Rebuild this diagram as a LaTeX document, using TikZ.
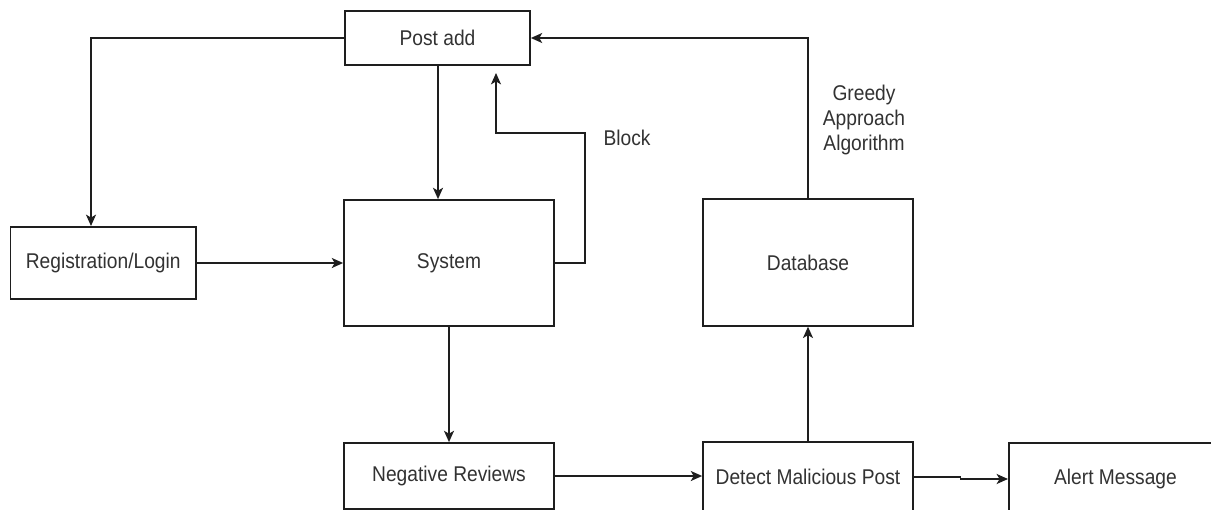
\documentclass[tikz,border=0pt]{standalone}
\usepackage{fontspec}
\newfontfamily\dfont[FakeStretch=0.9]{Liberation Sans}
\usetikzlibrary{arrows.meta}
\definecolor{linec}{RGB}{30,30,30}
\definecolor{textc}{RGB}{50,50,50}
\begin{document}
\begin{tikzpicture}[x=0.75pt,y=-0.75pt,
  box/.style={draw=linec,line width=1.3pt,inner sep=0pt,font=\dfont\fontsize{16}{18.75}\selectfont,text=textc},
  lbl/.style={inner sep=0pt,font=\dfont\fontsize{16}{18.75}\selectfont,text=textc,align=center},
  arr/.style={draw=linec,line width=1.3pt,-{Stealth[length=8.5pt,width=7.5pt,inset=2.2pt]}},
  ln/.style={draw=linec,line width=1.3pt}]
\useasboundingbox (0,0) rectangle (1211,510);
\clip (0,0) rectangle (1211,510);
\fill[white] (0,0) rectangle (1211,510);
\node[box,minimum width=138.75pt,minimum height=40.5pt] (post) at (437.5,38) {Post add};
\node[box,minimum width=139pt,minimum height=54pt] (reg) at (103.25,263) {Registration/Login};
\node[box,minimum width=157.5pt,minimum height=94.5pt] (sys) at (449,263) {System};
\node[box,minimum width=157.5pt,minimum height=95pt] (db) at (808,262.5) {Database};
\node[box,minimum width=157pt,minimum height=49.5pt] (neg) at (449,476) {Negative Reviews};
\node[box,minimum width=157.5pt,minimum height=52.5pt] (det) at (808,477) {Detect Malicious Post};
\node[box,minimum width=160pt,minimum height=54pt] (alert) at (1115.5,479) {Alert Message};
\node[lbl] (blocklbl) at (627,137.5) {Block};
\node[lbl] (greedy) at (864,120) {Greedy\\Approach\\Algorithm};
\coordinate (blk) at (496,73);
\coordinate (regin) at (91,226);
\draw[arr] (post.west) -| (regin);
\draw[arr] ([xshift=0.375pt]post.south) -- ([xshift=0.375pt]post.south |- sys.north);
\draw[arr] (reg.east) -- (reg.east -| sys.west);
\draw[arr] (sys.east) -| (585,133) -- (496,133) -- (blk);
\draw[arr] (db.north) |- (post.east);
\draw[arr] (det.north) -- (db.south);
\draw[arr] (sys.south) -- (sys.south |- neg.north);
\draw[arr] (neg.east) -- (neg.east -| det.west);
\draw[arr] (det.east) -- (960.5,477) -- (960.5,479) -- (alert.west);
\end{tikzpicture}
\end{document}
